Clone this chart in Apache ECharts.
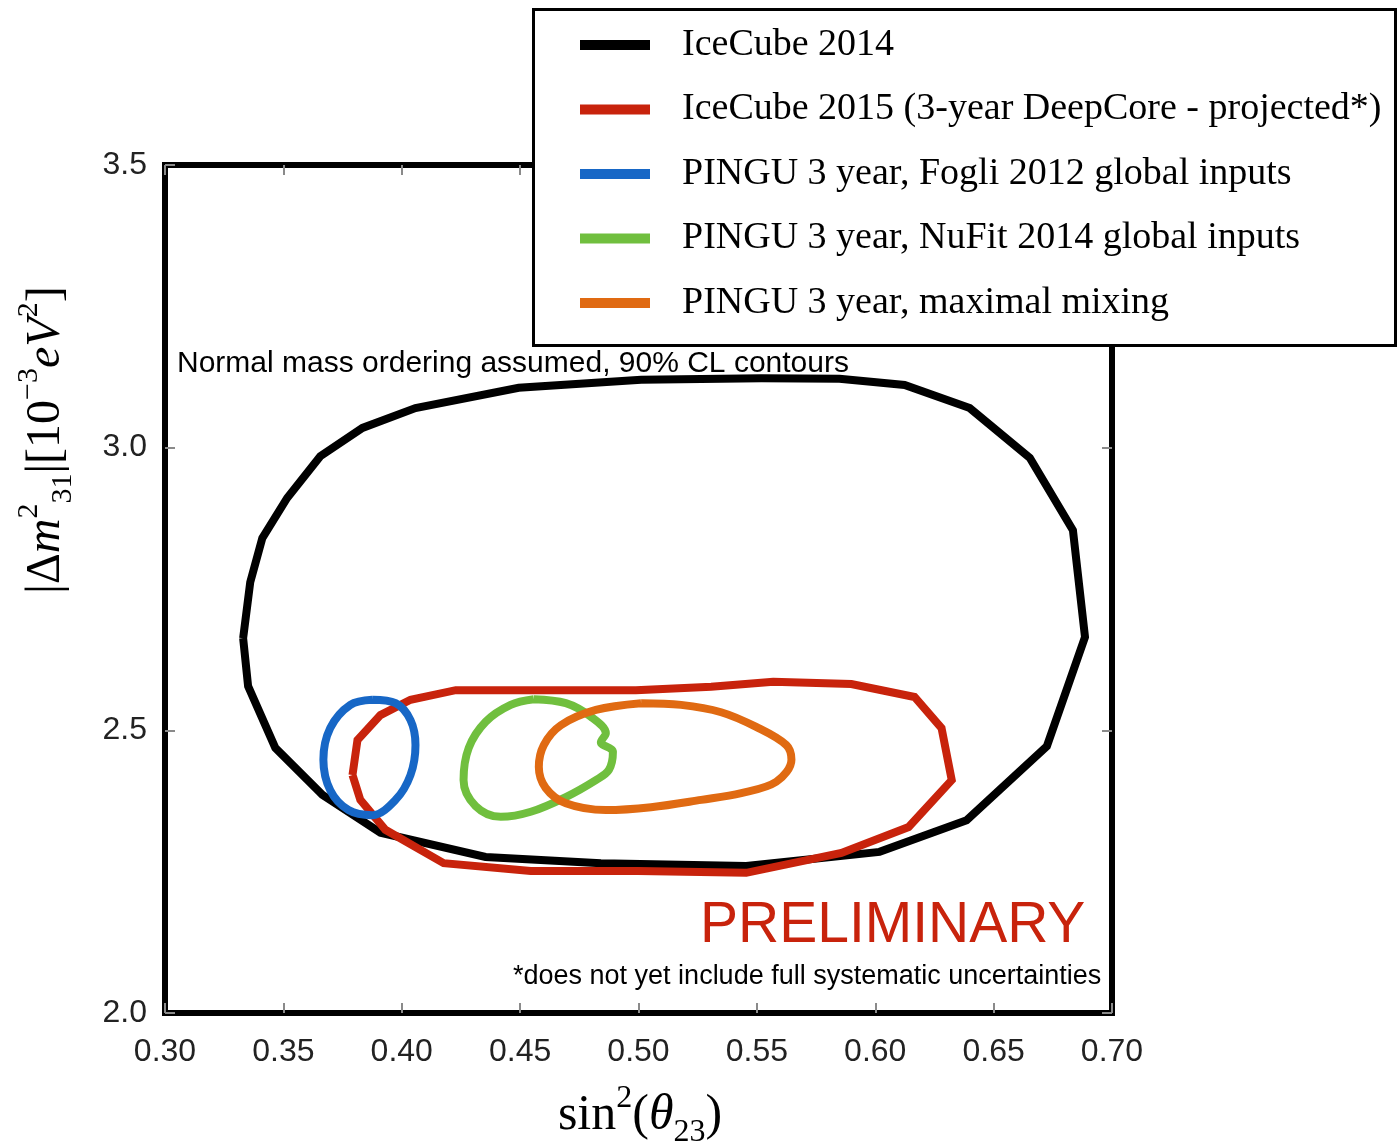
<!DOCTYPE html>
<html><head><meta charset="utf-8">
<script src="https://cdn.jsdelivr.net/npm/echarts@6/dist/echarts.min.js"></script>
<style>html,body{margin:0;padding:0;background:#fff}#c{width:1400px;height:1148px}</style>
</head><body><div id="c"></div>
<script>
const seriesNames = ['IceCube 2014','IceCube 2015 (3-year DeepCore - projected*)','PINGU 3 year, Fogli 2012 global inputs','PINGU 3 year, NuFit 2014 global inputs','PINGU 3 year, maximal mixing'];
const seriesColors = ['#000000','#c8230c','#1767c6','#70bf3e','#e06a12'];
const xTicks = [0.30,0.35,0.40,0.45,0.50,0.55,0.60,0.65,0.70];
const yTicks = [2.0,2.5,3.0,3.5];

const ic2014X = [0.3330,0.3360,0.3411,0.3516,0.3656,0.3834,0.4058,0.4494,0.5011,0.5519,0.5849,0.6124,0.6399,0.6653,0.6835,0.6886,0.6725,0.6386,0.6018,0.5455,0.4841,0.4354,0.3910,0.3665,0.3466,0.3351,0.3330];
const ic2014Y = [2.663,2.762,2.840,2.911,2.985,3.035,3.070,3.106,3.120,3.123,3.122,3.111,3.070,2.982,2.854,2.665,2.472,2.341,2.285,2.260,2.265,2.276,2.319,2.386,2.469,2.578,2.663];

const ic2015X = [0.3792,0.3813,0.3910,0.4037,0.4228,0.4989,0.5307,0.5569,0.5899,0.6166,0.6280,0.6323,0.6141,0.5857,0.5455,0.4998,0.4545,0.4177,0.3931,0.3825,0.3792];
const ic2015Y = [2.421,2.483,2.527,2.554,2.571,2.571,2.577,2.586,2.582,2.559,2.504,2.412,2.329,2.283,2.248,2.251,2.251,2.265,2.324,2.377,2.421];

const fogliX = [0.3876,0.3974,0.4037,0.4058,0.4037,0.3974,0.3876,0.3775,0.3698,0.3669,0.3698,0.3783,0.3876];
const fogliY = [2.554,2.548,2.518,2.474,2.421,2.377,2.350,2.359,2.394,2.448,2.504,2.545,2.554];

const nufitX = [0.4558,0.4693,0.4799,0.4862,0.4841,0.4892,0.4875,0.4820,0.4693,0.4545,0.4418,0.4312,0.4261,0.4283,0.4354,0.4460,0.4558];
const nufitY = [2.555,2.548,2.524,2.495,2.479,2.462,2.430,2.412,2.382,2.356,2.347,2.366,2.412,2.469,2.515,2.545,2.555];

const maxmixX = [0.5011,0.5180,0.5349,0.5497,0.5624,0.5646,0.5582,0.5434,0.5265,0.5053,0.4862,0.4693,0.4608,0.4579,0.4600,0.4672,0.4820,0.5011];
const maxmixY = [2.548,2.545,2.532,2.506,2.474,2.448,2.409,2.389,2.377,2.364,2.359,2.371,2.398,2.435,2.474,2.509,2.536,2.548];

const annotNote = 'Normal mass ordering assumed, 90% CL contours';
const annotPrelim = 'PRELIMINARY';
const annotSyst = '*does not yet include full systematic uncertainties';

function zip(xs, ys){ return xs.map((x,i)=>[x, ys[i]]); }
const contours = [
  {x: ic2014X, y: ic2014Y, smooth: false},
  {x: ic2015X, y: ic2015Y, smooth: false},
  {x: fogliX, y: fogliY, smooth: 0.35},
  {x: nufitX, y: nufitY, smooth: 0.35},
  {x: maxmixX, y: maxmixY, smooth: 0.35}
];

const chart = echarts.init(document.getElementById('c'), null, {renderer:'canvas'});
const tickGray = '#8a8a8a';
const labelFont = {fontFamily:'Liberation Sans, Arial, sans-serif', fontSize:32, color:'#222'};
const serif = 'Liberation Serif, DejaVu Serif, serif';

chart.setOption({
  animation: false,
  backgroundColor: '#fff',
  grid: {left:165, top:165, width:947, height:848, show:true, borderColor:'#000', borderWidth:6, backgroundColor:'transparent'},
  xAxis: [
    {type:'value', min:0.30, max:0.70, interval:0.05, position:'bottom',
     axisLine:{show:false}, splitLine:{show:false},
     axisTick:{show:true, inside:true, length:10, lineStyle:{color:tickGray, width:2}},
     axisLabel:{margin:23, formatter:v=>v.toFixed(2), ...labelFont}},
    {type:'value', min:0.30, max:0.70, interval:0.05, position:'top',
     axisLine:{show:false}, splitLine:{show:false},
     axisTick:{show:true, inside:true, length:10, lineStyle:{color:tickGray, width:2}},
     axisLabel:{show:false}}
  ],
  yAxis: [
    {type:'value', min:2.0, max:3.5, interval:0.5, position:'left',
     axisLine:{show:false}, splitLine:{show:false},
     axisTick:{show:true, inside:true, length:10, lineStyle:{color:tickGray, width:2}},
     axisLabel:{margin:18, formatter:v=>v.toFixed(1), ...labelFont}},
    {type:'value', min:2.0, max:3.5, interval:0.5, position:'right',
     axisLine:{show:false}, splitLine:{show:false},
     axisTick:{show:true, inside:true, length:10, lineStyle:{color:tickGray, width:2}},
     axisLabel:{show:false}}
  ],
  legend: {
    orient:'vertical', left:580, top:23, padding:0, itemGap:20.5,
    itemWidth:70, itemHeight:10, icon:'rect',
    data: seriesNames,
    textStyle:{fontFamily:serif, fontSize:38, color:'#000', lineHeight:44, padding:[0,0,0,27]},
    z: 10
  },
  graphic: [
    {type:'rect', shape:{x:533.5, y:9.5, width:862, height:336}, style:{fill:'#fff', stroke:'#000', lineWidth:3}, z:8},
    {type:'text', left:177, top:349, style:{text:annotNote, font:'30px Liberation Sans, Arial, sans-serif', fill:'#000'}, z:5},
    {type:'text', left:700, top:898, style:{text:annotPrelim, font:'57px Liberation Sans, Arial, sans-serif', fill:'#c8230c'}, z:5},
    {type:'text', left:513, top:963, style:{text:annotSyst, font:'27px Liberation Sans, Arial, sans-serif', fill:'#000'}, z:5},
    {type:'text', x:640, y:1116, style:{
      text:'{a|sin}{s|2}{a|(}{t|θ}{b|23}{a|)}', align:'center', verticalAlign:'middle',
      rich:{
        a:{fontFamily:serif, fontSize:50, lineHeight:66, color:'#000'},
        t:{fontFamily:serif, fontSize:50, fontStyle:'italic', lineHeight:66, color:'#000'},
        s:{fontFamily:serif, fontSize:32, lineHeight:30, verticalAlign:'top', color:'#000'},
        b:{fontFamily:serif, fontSize:32, lineHeight:24, verticalAlign:'bottom', color:'#000'}
      }}},
    {type:'text', x:46, y:440, rotation:Math.PI/2, style:{
      text:'{a||Δ}{t|m}{s|2}{b|31}{a||[10}{s|−3}{t|eV}{s|2}{a|]}', align:'center', verticalAlign:'middle',
      rich:{
        a:{fontFamily:serif, fontSize:48, lineHeight:64, color:'#000'},
        t:{fontFamily:serif, fontSize:48, fontStyle:'italic', lineHeight:64, color:'#000'},
        s:{fontFamily:serif, fontSize:30, lineHeight:28, verticalAlign:'top', color:'#000'},
        b:{fontFamily:serif, fontSize:30, lineHeight:24, verticalAlign:'bottom', color:'#000'}
      }}}
  ],
  series: contours.map((c,i)=>({
    name: seriesNames[i], type:'line', xAxisIndex:0, yAxisIndex:0,
    data: zip(c.x, c.y), symbol:'none', smooth:c.smooth,
    lineStyle:{color:seriesColors[i], width: 8, join:'miter'},
    itemStyle:{color:seriesColors[i]},
    z: 2 + i
  }))
});
</script></body></html>
